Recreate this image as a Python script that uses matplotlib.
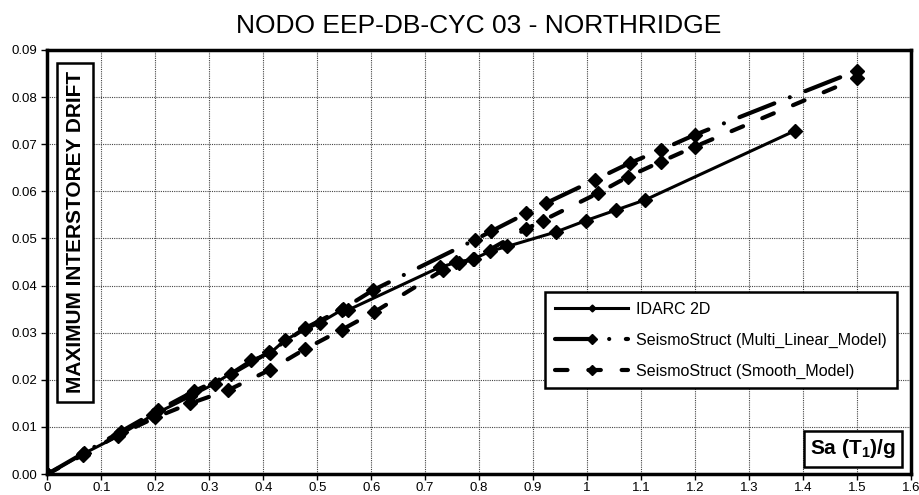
import matplotlib
matplotlib.use("Agg")
import matplotlib.pyplot as plt
from matplotlib.lines import Line2D
from matplotlib.ticker import MultipleLocator, FuncFormatter

plt.rcParams["font.family"] = ["Liberation Sans", "DejaVu Sans"]
plt.rcParams["mathtext.fontset"] = "custom"
plt.rcParams["mathtext.rm"] = "Liberation Sans"
plt.rcParams["mathtext.bf"] = "Liberation Sans:bold"

# IDARC 2D
idarc_x = [0, 0.065, 0.13, 0.195, 0.265, 0.31, 0.378, 0.412, 0.44, 0.477, 0.505,
           0.545, 0.557, 0.727, 0.758, 0.789, 0.821, 0.852, 0.943, 0.998, 1.053,
           1.108, 1.386]
idarc_y = [0, 0.0042, 0.008, 0.0125, 0.0165, 0.0192, 0.0242, 0.0256, 0.0284,
           0.0307, 0.0321, 0.0348, 0.0348, 0.0439, 0.0449, 0.0456, 0.0473,
           0.0483, 0.0514, 0.0538, 0.056, 0.0582, 0.0729]

# SeismoStruct (Multi_Linear_Model)
multi_x = [0, 0.068, 0.136, 0.205, 0.272, 0.34, 0.41, 0.478, 0.547, 0.603,
           0.792, 0.822, 0.887, 0.924, 1.014, 1.079, 1.137, 1.2, 1.5]
multi_y = [0, 0.0045, 0.009, 0.0135, 0.0176, 0.0212, 0.0258, 0.031, 0.035,
           0.039, 0.0497, 0.0515, 0.0553, 0.0575, 0.0624, 0.066, 0.0688,
           0.072, 0.0856]

# SeismoStruct (Smooth_Model)
smooth_x = [0, 0.065, 0.13, 0.2, 0.265, 0.335, 0.412, 0.477, 0.545, 0.606,
            0.733, 0.762, 0.79, 0.887, 0.918, 1.02, 1.076, 1.137, 1.2, 1.5]
smooth_y = [0, 0.004, 0.0082, 0.012, 0.015, 0.0178, 0.0221, 0.0265, 0.0306,
            0.0344, 0.0433, 0.0447, 0.0457, 0.052, 0.0538, 0.0596, 0.0631,
            0.0663, 0.0695, 0.084]

labels = ["IDARC 2D", "SeismoStruct (Multi_Linear_Model)",
          "SeismoStruct (Smooth_Model)"]

fig = plt.figure(figsize=(9.2, 4.95), dpi=100)
ax = fig.add_axes([0.0516, 0.0424, 0.9384, 0.8566])

ax.plot(idarc_x, idarc_y, color="black", lw=2.2, marker="D", ms=7.5,
        zorder=3)
ax.plot(multi_x, multi_y, color="black", lw=3, marker="D", ms=7.5,
        linestyle=(0, (9, 4, 0.01, 4)), dash_capstyle="round", zorder=3)
ax.plot(smooth_x, smooth_y, color="black", lw=3, marker="D", ms=7.5,
        linestyle=(0, (3, 5)), dash_capstyle="round", zorder=3)

ax.set_xlim(0, 1.6)
ax.set_ylim(0, 0.09)
ax.xaxis.set_major_locator(MultipleLocator(0.1))
ax.yaxis.set_major_locator(MultipleLocator(0.01))
ax.xaxis.set_major_formatter(FuncFormatter(lambda v, p: f"{v:.1f}".rstrip("0").rstrip(".") if v != 0 else "0"))
ax.yaxis.set_major_formatter(FuncFormatter(lambda v, p: f"{v:.2f}"))
ax.tick_params(labelsize=9.5, length=4, width=1, pad=3)
ax.tick_params(axis="x", pad=1.5)
ax.grid(True, color="#444444", lw=0.8, linestyle=(0, (1, 1)))
for s in ax.spines.values():
    s.set_linewidth(2.5)

ax.set_title("NODO EEP-DB-CYC 03 - NORTHRIDGE", fontsize=19, pad=12)

ax.text(0.032, 0.57, "MAXIMUM INTERSTOREY DRIFT", transform=ax.transAxes,
        rotation=90, ha="center", va="center", fontsize=15, fontweight="bold",
        bbox=dict(boxstyle="square,pad=0.4", fc="white", ec="black", lw=1.8),
        zorder=5)
ax.text(0.933, 0.059, r"Sa (T$_{\mathbf{1}}$)/g", transform=ax.transAxes,
        ha="center", va="center", fontsize=15, fontweight="bold",
        bbox=dict(boxstyle="square,pad=0.3", fc="white", ec="black", lw=1.8),
        zorder=5)

handles = [
    Line2D([], [], color="black", lw=2.2, marker="D", ms=3.5),
    Line2D([], [], color="black", lw=3, marker="D", ms=5,
           linestyle=(0, (9, 4, 0.01, 4)), dash_capstyle="round"),
    Line2D([], [], color="black", lw=3, marker="D", ms=5,
           linestyle=(0, (3, 5)), dash_capstyle="round"),
]
leg = ax.legend(handles, labels, loc="upper right",
                bbox_to_anchor=(0.993, 0.448), fontsize=11.5, frameon=True,
                fancybox=False, edgecolor="black", framealpha=1,
                handlelength=4.6, handletextpad=0.5, labelspacing=1.0,
                borderpad=0.6)
leg.get_frame().set_linewidth(1.8)
leg.set_zorder(6)

fig.savefig("out.png", dpi=100)
